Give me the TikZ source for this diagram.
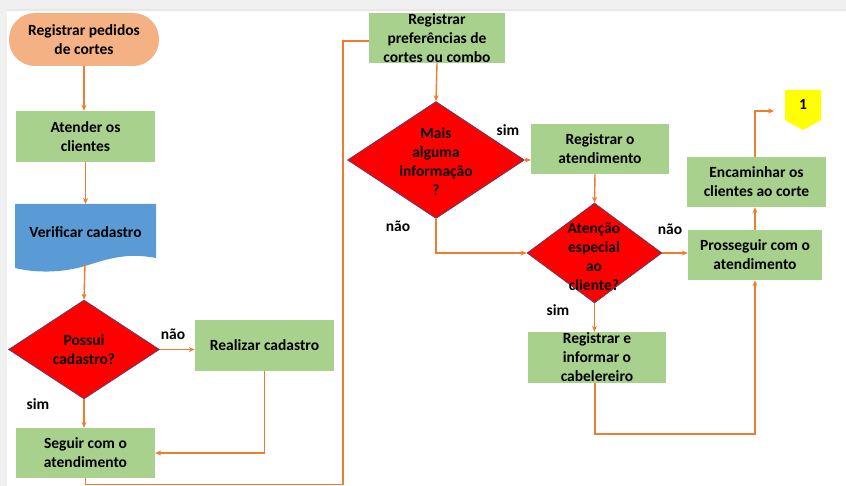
\documentclass[tikz,border=0pt]{standalone}
\usepackage{fontspec}
\setmainfont{Carlito}
\usetikzlibrary{shapes.geometric,arrows.meta,calc}
\definecolor{ogreen}{HTML}{A9D18E}
\definecolor{oorange}{HTML}{F4B183}
\definecolor{oblue}{HTML}{5B9BD5}
\definecolor{oline}{HTML}{ED7D31}
\definecolor{dborder}{HTML}{3A4A7A}
\definecolor{oyellow}{HTML}{FFFF00}
\tikzset{
  txt/.style={font=\fontsize{15.5}{19}\selectfont\bfseries, align=center, text=black},
  gbox/.style={txt, rectangle, fill=ogreen, inner sep=0pt},
  dbox/.style={diamond, fill=red, draw=dborder, line width=0.6pt, inner sep=0pt},
  lbl/.style={txt, inner sep=0pt},
  conn/.style={draw=oline, line width=1.4pt, -{Stealth[length=6pt,width=5pt]}},
  connn/.style={draw=oline, line width=1.4pt}
}
\begin{document}
\begin{tikzpicture}[x=1pt,y=-1pt]
\useasboundingbox (0,0) rectangle (846,486);
\fill[white] (0,0) rectangle (846,486);
\fill[gray!12] (0,0) rectangle (846,10);
\fill[gray!18] (0,9) rectangle (846,11);
\fill[gray!12] (0,0) rectangle (7,486);

% start
\node[txt, rectangle, rounded corners=26pt, fill=oorange, minimum width=150pt, minimum height=53pt, inner sep=0pt] (start) at (84,39.5) {Registrar pedidos\\de cortes};
\node[gbox, minimum width=139pt, minimum height=51pt] (atender) at (85.5,136.5) {Atender os\\clientes};
% document shape
\fill[oblue] (15,204) -- (156,204) -- (156,258) .. controls (125,252) and (105,260) .. (85,266) .. controls (62,273) and (35,273) .. (15,268) -- cycle;
\node[lbl] (ver) at (85.5,232) {Verificar cadastro};
\coordinate (vertop) at (85.5,204);
\coordinate (verbot) at (85,264);
% possui
\node[dbox, minimum width=151pt, minimum height=99pt] (possui) at (84,349.5) {};
\node[lbl] (possuit) at (84,350) {Possui\\cadastro?};
\node[gbox, minimum width=139pt, minimum height=51pt] (realizar) at (264.5,345.5) {Realizar cadastro};
\node[gbox, minimum width=139pt, minimum height=50pt] (seguir) at (85.5,453) {Seguir com o\\atendimento};
\node[lbl] (nao1) at (173,334) {não};
\node[lbl] (sim1) at (38,404) {sim};

% middle column
\node[gbox, minimum width=136pt, minimum height=50pt] (pref) at (437,38) {Registrar\\preferências de\\cortes ou combo};
\node[dbox, minimum width=177pt, minimum height=117pt] (mais) at (436,160) {};
\node[lbl] (maist) at (436,161.5) {Mais\\alguma\\informação\\?};
\node[gbox, minimum width=138pt, minimum height=50pt] (rego) at (600,149) {Registrar o\\atendimento};
\node[lbl] (sim2) at (508,130) {sim};
\node[lbl] (nao2) at (398,226) {não};
\node[dbox, minimum width=135pt, minimum height=100pt] (aten) at (594.5,253) {};
\node[lbl] (atent) at (594,257) {Atenção\\especial\\ao\\cliente?};
\node[gbox, minimum width=138pt, minimum height=51pt] (rege) at (597,357.5) {Registrar e\\informar o\\cabelereiro};
\node[lbl] (sim3) at (558,310) {sim};
\node[lbl] (nao3) at (670,229) {não};

% right column
\node[gbox, minimum width=134pt, minimum height=50pt] (pros) at (755,255) {Prosseguir com o\\atendimento};
\node[gbox, minimum width=139pt, minimum height=50pt] (enc) at (756.5,182) {Encaminhar os\\clientes ao corte};
\fill[oyellow] (785,90) -- (821,90) -- (821,120) -- (803,130) -- (785,120) -- cycle;
\node[lbl] (off) at (803,104) {1};
\coordinate (offin) at (774,111);

% connectors
\draw[conn] (start.south) -- (atender.north -| start.south);
\draw[conn] (atender.south) -- (vertop);
\draw[conn] (verbot) -- (possui.north);
\draw[conn] (possui.east) -- (possui.east -| realizar.west);
\draw[conn] (possui.south) -- (seguir.north -| possui.south);
\draw[conn] (realizar.south) |- (seguir.east);
\draw[connn] (seguir.south) -- ++(0,6) -| (343,41) -- (pref.west |- 0,41);
\draw[conn] (pref.south) -- (mais.north);
\draw[conn] (mais.east) -- (mais.east -| rego.west);
\draw[conn] (mais.south) |- (aten.west);
\draw[conn] (rego.south -| 595,0) -- (aten.north);
\draw[conn] (aten.east) -- (aten.east -| pros.west);
\draw[conn] (aten.south) -- (rege.north -| aten.south);
\draw[conn] (rege.south -| 595,0) -- (595,434) -| (pros.south -| 755,0);
\draw[conn] (pros.north -| 755,0) -- (enc.south -| 755,0);
\draw[conn] (enc.north -| 755,0) |- (offin);
\end{tikzpicture}
\end{document}
